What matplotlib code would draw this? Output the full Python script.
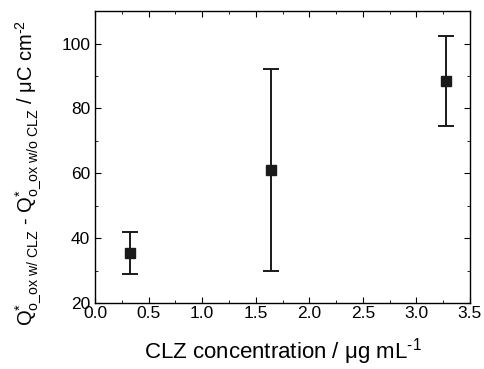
import matplotlib.pyplot as plt
from matplotlib.ticker import MultipleLocator

plt.rcParams["font.family"] = ["Liberation Sans", "DejaVu Sans"]
plt.rcParams["mathtext.fontset"] = "custom"
plt.rcParams["mathtext.rm"] = "Liberation Sans"
plt.rcParams["mathtext.it"] = "Liberation Sans"

conc = [0.33, 1.64, 3.28]
charge = [35.4, 60.9, 88.3]
err_low = [6.6, 31.1, 13.7]
err_high = [6.5, 31.1, 13.9]
xticks = [0.0, 0.5, 1.0, 1.5, 2.0, 2.5, 3.0, 3.5]
yticks = [20, 40, 60, 80, 100]

fig = plt.figure(figsize=(4.85, 3.69), dpi=100)
ax = fig.add_axes([0.196, 0.179, 0.773, 0.791])

ax.errorbar(conc, charge, yerr=[err_low, err_high], fmt="s", color="#1a1a1a",
            markersize=7, capsize=6, elinewidth=1.4, capthick=1.4)

ax.set_xlim(0, 3.5)
ax.set_ylim(20, 110)
ax.set_xticks(xticks)
ax.set_xticklabels([f"{t:.1f}" for t in xticks])
ax.set_yticks(yticks)
ax.xaxis.set_minor_locator(MultipleLocator(0.25))
ax.yaxis.set_minor_locator(MultipleLocator(10))
ax.tick_params(which="both", direction="in", top=True, right=True, labelsize=12.5)
ax.tick_params(which="major", length=4)
ax.tick_params(which="minor", length=2.5)
ax.tick_params(axis="x", pad=2)
for s in ax.spines.values():
    s.set_linewidth(1.0)

ax.set_xlabel("CLZ concentration / μg mL$^{\\mathregular{‐1}}$", fontsize=16, labelpad=11)
ax.set_ylabel("Q$^{\\mathregular{*}}_{\\mathregular{o\\_ox\\ w/\\ CLZ}}$ - "
              "Q$^{\\mathregular{*}}_{\\mathregular{o\\_ox\\ w/o\\ CLZ}}$ / μC cm$^{\\mathregular{‐2}}$",
              fontsize=14.5)
ax.yaxis.set_label_coords(-0.14, 0.445)

fig.savefig("out.png", dpi=100)
